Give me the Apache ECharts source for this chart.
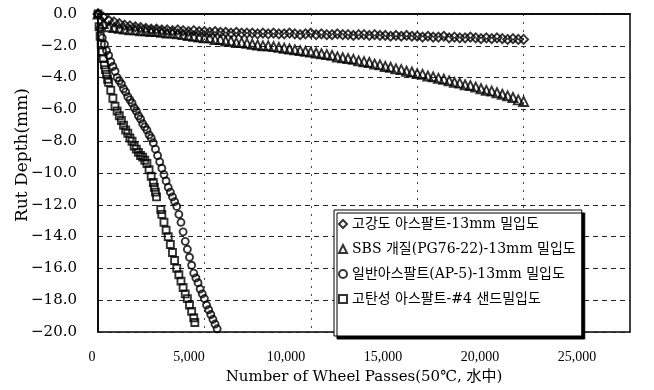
<!DOCTYPE html>
<html>
<head>
<meta charset="utf-8">
<script src="https://cdn.jsdelivr.net/npm/echarts@6/dist/echarts.min.js"></script>
<style>
  html, body { margin: 0; padding: 0; background: #fff; }
  #main { width: 654px; height: 390px; }
</style>
</head>
<body>
<div id="main"></div>
<script>
// rut depth vs wheel passes – 4 mixes, hollow markers, excel-style frame

const seriesNames = [
  "고강도 아스팔트-13mm 밀입도",
  "SBS 개질(PG76-22)-13mm 밀입도",
  "일반아스팔트(AP-5)-13mm 밀입도",
  "고탄성 아스팔트-#4 샌드밀입도"
];

// shared passes for the two long (20,000 pass) runs
const passesLong = [
  0, 250, 500, 750, 1000, 1250, 1500, 1750, 2000, 2250, 2500, 2750, 3000, 3250, 3500, 3750,
  4000, 4250, 4500, 4750, 5000, 5250, 5500, 5750, 6000, 6250, 6500, 6750, 7000, 7250, 7500, 7750,
  8000, 8250, 8500, 8750, 9000, 9250, 9500, 9750, 10000, 10250, 10500, 10750, 11000, 11250, 11500, 11750,
  12000, 12250, 12500, 12750, 13000, 13250, 13500, 13750, 14000, 14250, 14500, 14750, 15000, 15250, 15500, 15750,
  16000, 16250, 16500, 16750, 17000, 17250, 17500, 17750, 18000, 18250, 18500, 18750, 19000, 19250, 19500, 19750, 20000
];

const highStrengthDepth = [
  0, -0.2, -0.4, -0.5, -0.6, -0.7, -0.75, -0.8, -0.85, -0.9, -0.95, -0.95, -1.0, -1.0, -1.05, -1.0,
  -1.05, -1.1, -1.05, -1.1, -1.1, -1.15, -1.1, -1.15, -1.15, -1.2, -1.15, -1.2, -1.2, -1.2, -1.25, -1.2,
  -1.25, -1.2, -1.25, -1.25, -1.2, -1.25, -1.3, -1.25, -1.2, -1.3, -1.25, -1.3, -1.3, -1.25, -1.3, -1.3,
  -1.35, -1.3, -1.3, -1.35, -1.3, -1.35, -1.35, -1.4, -1.35, -1.4, -1.35, -1.4, -1.4, -1.45, -1.4, -1.45,
  -1.45, -1.4, -1.5, -1.45, -1.5, -1.5, -1.45, -1.5, -1.55, -1.5, -1.55, -1.5, -1.55, -1.6, -1.55, -1.6, -1.6
];

const sbsDepth = [
  0, -0.6, -0.8, -0.85, -0.9, -0.95, -1.0, -1.0, -1.05, -1.05, -1.1, -1.1, -1.15, -1.2, -1.2, -1.25,
  -1.3, -1.35, -1.4, -1.45, -1.5, -1.5, -1.6, -1.6, -1.7, -1.7, -1.8, -1.8, -1.85, -1.9, -1.95, -2.0,
  -2.0, -2.05, -2.1, -2.15, -2.2, -2.25, -2.3, -2.35, -2.4, -2.45, -2.5, -2.55, -2.6, -2.7, -2.75, -2.8,
  -2.85, -2.95, -3.0, -3.05, -3.15, -3.2, -3.3, -3.35, -3.45, -3.5, -3.6, -3.65, -3.75, -3.8, -3.9, -3.95,
  -4.05, -4.1, -4.2, -4.3, -4.35, -4.45, -4.5, -4.6, -4.7, -4.8, -4.85, -4.95, -5.05, -5.15, -5.25, -5.4, -5.5
];

const ap5Passes = [
  0, 100, 200, 300, 400, 500, 600, 700, 800, 900, 1000, 1100, 1200, 1300, 1400, 1500, 1600, 1700, 1800, 1900,
  2000, 2100, 2200, 2300, 2400, 2500, 2600, 2700, 2800, 2900, 3000, 3100, 3200, 3300, 3400, 3500, 3600, 3700,
  3800, 3900, 4000, 4100, 4200, 4300, 4400, 4500, 4600, 4700, 4800, 4900, 5000, 5100, 5200, 5300, 5400, 5500, 5600
];
const ap5Depth = [
  0, -0.9, -1.5, -1.9, -2.3, -2.6, -3.0, -3.3, -3.6, -4.0, -4.2, -4.4, -4.7, -4.9, -5.2, -5.4, -5.6, -5.9, -6.1, -6.4,
  -6.6, -6.9, -7.1, -7.3, -7.6, -7.8, -8.1, -8.5, -8.9, -9.3, -9.7, -10.1, -10.5, -10.9, -11.2, -11.5, -11.8, -12.1,
  -12.6, -13.1, -13.7, -14.3, -14.8, -15.3, -15.8, -16.3, -16.6, -16.9, -17.3, -17.6, -17.9, -18.3, -18.6, -18.9, -19.2, -19.5, -19.8
];

const highElasticPasses = [
  0, 50, 100, 150, 200, 250, 300, 350, 400, 450, 500, 600, 700, 800, 900, 1000, 1100, 1200, 1300, 1400,
  1500, 1600, 1700, 1800, 1900, 2000, 2100, 2200, 2300, 2400, 2500, 2600, 2650, 2700, 2750, 2950, 3000,
  3100, 3200, 3300, 3400, 3500, 3600, 3700, 3800, 3900, 4000, 4100, 4200, 4300, 4400, 4500, 4550
];
const highElasticDepth = [
  0, -0.8, -1.4, -1.9, -2.4, -2.8, -3.2, -3.5, -3.8, -4.1, -4.3, -4.8, -5.3, -5.8, -6.1, -6.4, -6.7, -7.0, -7.3, -7.5,
  -7.8, -8.0, -8.3, -8.5, -8.7, -8.9, -9.0, -9.2, -9.4, -9.8, -10.2, -10.6, -10.9, -11.2, -11.5, -12.3, -12.6,
  -13.1, -13.6, -14.0, -14.5, -15.0, -15.5, -16.0, -16.4, -16.8, -17.2, -17.6, -17.9, -18.3, -18.7, -19.1, -19.4
];

const markerShapes = ["diamond", "triangle", "circle", "rect"];

const serifFont = '"DejaVu Serif", "Liberation Serif", "Noto Sans CJK KR", serif';

function pairs(xs, ys) {
  return xs.map((x, i) => [x, ys[i]]);
}

function fmtDepth(v) {
  const s = Math.abs(v).toFixed(1);
  return v < 0 ? "\u2212" + s : s;
}

const chart = echarts.init(document.getElementById("main"));

const allData = [
  pairs(passesLong, highStrengthDepth),
  pairs(passesLong, sbsDepth),
  pairs(ap5Passes, ap5Depth),
  pairs(highElasticPasses, highElasticDepth)
];

const series = seriesNames.map((name, i) => ({
  name: name,
  type: "scatter",
  xAxisIndex: 0,
  yAxisIndex: 0,
  symbol: markerShapes[i],
  symbolSize: i < 2 ? 9 : 7,
  data: allData[i],
  itemStyle: { color: "rgba(255,255,255,0)", borderColor: "#000", borderWidth: 1.9 },
  emphasis: { disabled: true }
}));

chart.setOption({
  backgroundColor: "#fff",
  animation: false,
  grid: [
    { left: 98, top: 14, right: 24, bottom: 57, show: true, borderColor: "#000", borderWidth: 1.5, backgroundColor: "transparent" },
    // label strip – the scanned tick labels sit a bit left of the grid lines
    { left: 92, top: 14, width: 485, bottom: 57 }
  ],
  xAxis: [
    {
      type: "value", gridIndex: 0, min: 0, max: 25000, interval: 5000,
      axisLine: { show: true, lineStyle: { color: "#000", width: 1.5 } },
      axisTick: { show: false },
      axisLabel: { show: false },
      splitLine: { show: true, lineStyle: { color: "#444", type: [2, 6], width: 1 } },
      name: "Number of Wheel Passes(50\u2103, 水中)",
      nameLocation: "middle",
      nameGap: 38,
      nameTextStyle: { fontFamily: serifFont, fontSize: 15, color: "#000" }
    },
    {
      type: "value", gridIndex: 1, min: 0, max: 25000, interval: 5000,
      axisLine: { show: false }, axisTick: { show: false }, splitLine: { show: false },
      axisLabel: {
        margin: 17, color: "#000", fontFamily: '"Liberation Serif", serif', fontSize: 14,
        formatter: v => v.toLocaleString("en-US")
      }
    }
  ],
  yAxis: [
    {
      type: "value", gridIndex: 0, min: -20, max: 0, interval: 2,
      axisLine: { show: true, lineStyle: { color: "#000", width: 1.5 } },
      axisTick: { show: false },
      axisLabel: { margin: 21, color: "#000", fontFamily: serifFont, fontSize: 15, formatter: fmtDepth },
      splitLine: { show: true, lineStyle: { color: "#222", type: [5, 4], width: 1 } }
    },
    { type: "value", gridIndex: 1, min: -20, max: 0, show: false }
  ],
  legend: {
    orient: "vertical",
    left: 334,
    top: 210,
    padding: [7, 6, 30, 4],
    itemGap: 11,
    itemWidth: 8,
    itemHeight: 8,
    backgroundColor: "#fff",
    borderColor: "#000",
    borderWidth: 1,
    shadowColor: "#000",
    shadowBlur: 0,
    shadowOffsetX: 3,
    shadowOffsetY: 3,
    textStyle: { fontFamily: serifFont, fontSize: 14, color: "#000", width: 272, overflow: "truncate" },
    data: seriesNames.map((n, i) => ({ name: n, icon: markerShapes[i] }))
  },
  graphic: [
    {
      type: "text",
      x: 23, y: 155,
      rotation: Math.PI / 2,
      style: {
        text: "Rut Depth(mm)",
        font: '17px "DejaVu Serif", serif',
        fill: "#000",
        align: "center",
        verticalAlign: "middle"
      }
    }
  ],
  series: series
});
</script>
</body>
</html>
